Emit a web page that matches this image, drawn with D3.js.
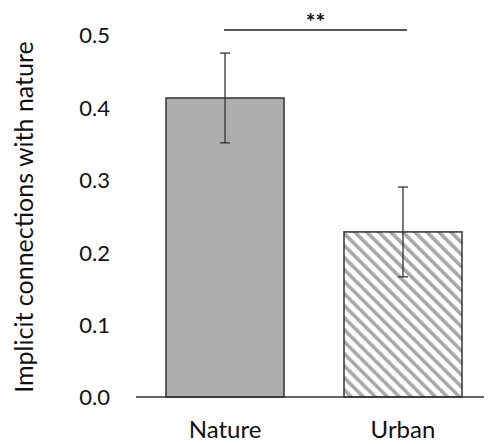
<!DOCTYPE html>
<html>
<meta charset="utf-8" />
<head>
<title>Implicit connections with nature</title>
<script src="https://cdn.jsdelivr.net/npm/d3@7"></script>
<style>
	body { margin: 0; background: #fff; }
	text { font-family: Lato, "Open Sans", sans-serif; fill: #111; }
</style>
</head>
<body>
<svg id="chart" width="490" height="444"></svg>
<script>
// data
const categories = ['Nature', 'Urban'];
const means = [0.413, 0.228];
const errors = [0.062, 0.062];
const yTicks = [0.0, 0.1, 0.2, 0.3, 0.4, 0.5];
const sigLabel = '**';

const svg = d3.select('#chart');

// plot area
const x0 = 136, x1 = 484, yTop = 35, yBase = 397;

const x = d3.scaleBand().domain(categories).range([148.2, 479.8]).paddingInner(0.337).paddingOuter(0.1);
const y = d3.scaleLinear().domain([0, 0.5]).range([yBase, yTop]);

// hatch pattern for Urban (stripes going down to the right)
const defs = svg.append('defs');
const pat = defs.append('pattern')
	.attr('id', 'hatch')
	.attr('patternUnits', 'userSpaceOnUse')
	.attr('width', 8.5).attr('height', 8.5)
	.attr('patternTransform', 'rotate(-45)');
pat.append('rect').attr('width', 8.5).attr('height', 8.5).attr('fill', '#fff');
pat.append('rect').attr('x', 0).attr('width', 3.6).attr('height', 8.5).attr('fill', '#a9a9a9');

// y axis tick labels (no axis line shown)
const yAxis = d3.axisLeft(y).tickValues(yTicks).tickFormat(d3.format('.1f')).tickSize(0).tickPadding(0);
const gy = svg.append('g').attr('transform', 'translate(110,0)').call(yAxis);
gy.select('.domain').remove();
gy.selectAll('text').style('font-size', '22px').attr('dy', '0.36em')
	.style('font-family', 'Lato, sans-serif').attr('fill', '#111');

// bars
svg.selectAll('rect.bar')
	.data(categories)
	.enter()
	.append('rect')
	.attr('class', 'bar')
	.attr('x', d => x(d))
	.attr('width', x.bandwidth())
	.attr('y', (d, i) => y(means[i]))
	.attr('height', (d, i) => yBase - y(means[i]))
	.attr('fill', (d, i) => i === 0 ? '#adadad' : 'url(#hatch)')
	.attr('stroke', '#333')
	.attr('stroke-width', 1.5);

// baseline
svg.append('line')
	.attr('x1', x0).attr('x2', x1)
	.attr('y1', yBase).attr('y2', yBase)
	.attr('stroke', '#333').attr('stroke-width', 1.5);

// error bars
const eb = svg.selectAll('g.err')
	.data(categories)
	.enter()
	.append('g')
	.attr('class', 'err');
eb.append('line')
	.attr('x1', d => x(d) + x.bandwidth() / 2)
	.attr('x2', d => x(d) + x.bandwidth() / 2)
	.attr('y1', (d, i) => y(means[i] + errors[i]))
	.attr('y2', (d, i) => y(means[i] - errors[i]))
	.attr('stroke', '#333').attr('stroke-width', 1.3);
[1, -1].forEach(function(s) {
	eb.append('line')
		.attr('x1', d => x(d) + x.bandwidth() / 2 - 5)
		.attr('x2', d => x(d) + x.bandwidth() / 2 + 5)
		.attr('y1', (d, i) => y(means[i] + s * errors[i]))
		.attr('y2', (d, i) => y(means[i] + s * errors[i]))
		.attr('stroke', '#333').attr('stroke-width', 1.3);
});

// significance bracket
const cx0 = x(categories[0]) + x.bandwidth() / 2 - 1;
const cx1 = x(categories[1]) + x.bandwidth() / 2 + 4;
svg.append('line')
	.attr('x1', cx0).attr('x2', cx1)
	.attr('y1', 30).attr('y2', 30)
	.attr('stroke', '#222').attr('stroke-width', 1.5);
svg.append('text')
	.attr('x', (cx0 + cx1) / 2).attr('y', 30)
	.attr('text-anchor', 'middle')
	.style('font-size', '23px')
	.style('font-weight', 'bold')
	.text(sigLabel);

// category labels
svg.selectAll('text.cat')
	.data(categories)
	.enter()
	.append('text')
	.attr('class', 'cat')
	.attr('x', d => x(d) + x.bandwidth() / 2)
	.attr('y', 438)
	.attr('text-anchor', 'middle')
	.style('font-size', '24px')
	.text(d => d);

// y title
svg.append('text')
	.attr('transform', 'translate(33,217) rotate(-90)')
	.attr('text-anchor', 'middle')
	.style('font-size', '25px')
	.text('Implicit connections with nature');
</script>
</body>
</html>
